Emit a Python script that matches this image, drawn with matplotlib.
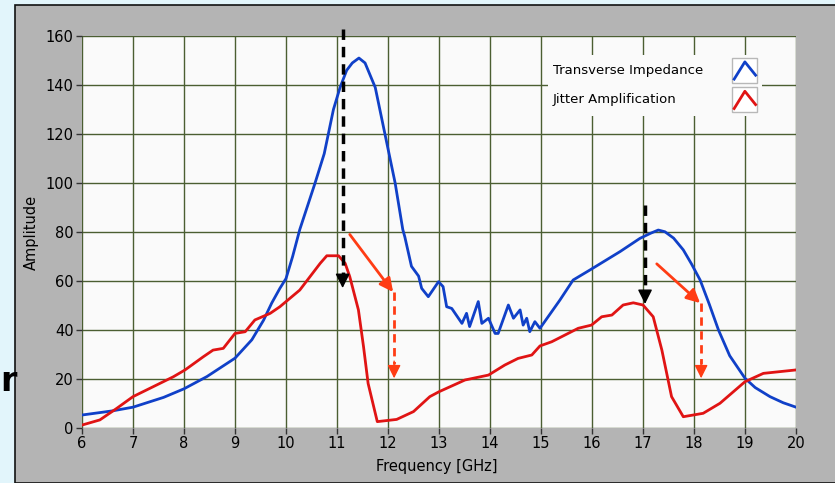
import matplotlib.pyplot as plt
from matplotlib.patches import Rectangle

# data
freq_ti = [6.0, 6.6, 7.0, 7.6, 8.0, 8.45, 9.0, 9.33, 9.56, 9.72, 9.88, 10.0, 10.13, 10.27, 10.57,
           10.75, 10.93, 11.06, 11.19, 11.3, 11.43, 11.55, 11.75, 11.97, 12.14, 12.29,
           12.33, 12.46, 12.6, 12.66, 12.79, 12.99, 13.08, 13.15, 13.25, 13.45, 13.54,
           13.6, 13.77, 13.84, 13.97, 14.1, 14.16, 14.36, 14.46, 14.59, 14.65, 14.72,
           14.78, 14.88, 14.98, 15.37, 15.63, 15.96, 16.55, 16.94, 17.15, 17.3, 17.43,
           17.6, 17.79, 17.95, 18.12, 18.3, 18.48, 18.7, 19.0, 19.2, 19.49, 19.75, 20.0]
amp_ti = [5.3, 7.0, 8.5, 12.5, 16, 21, 28.5, 36, 44, 51, 57, 61, 70, 81, 100,
          112, 130, 139, 146, 149, 151, 149, 139, 117, 100, 81,
          78, 66, 62, 57, 53.6, 59.7, 57.7, 49.5, 48.8, 42.7, 46.8,
          41.4, 51.6, 42.7, 44.8, 38.6, 38.6, 50.2, 44.8, 48.2, 42, 44.8,
          39.3, 43.4, 40.7, 52.2, 60.4, 64.5, 72, 77.4, 79.5, 80.8, 80.1,
          77.5, 72.7, 67, 60.4, 50.5, 40, 29.5, 20.3, 16.5, 12.8, 10.3, 8.5]

freq_ja = [6.0, 6.35, 6.68, 7.0, 7.4, 7.79, 8.02, 8.38, 8.57, 8.77, 9.0, 9.2, 9.39, 9.69,
           9.88, 10.27, 10.67, 10.8, 11.03, 11.16, 11.25, 11.42, 11.52, 11.61, 11.79,
           12.17, 12.5, 12.82, 13.0, 13.51, 13.97, 14.29, 14.55, 14.82, 14.98, 15.21,
           15.73, 15.99, 16.19, 16.39, 16.61, 16.81, 17.0, 17.2, 17.37, 17.56, 17.79,
           18.18, 18.51, 19.0, 19.36, 20.0]
amp_ja = [1.2, 3.3, 8, 12.8, 16.9, 20.9, 23.7, 29.1, 31.8, 32.5, 38.6, 39.3, 44.1, 46.8,
          49.5, 56.3, 67.2, 70.3, 70.3, 67.2, 61.8, 48.2, 33.2, 18.2, 2.6,
          3.5, 6.7, 12.8, 14.8, 19.6, 21.6, 25.7, 28.4, 29.8, 33.5, 35.2,
          40.7, 42, 45.4, 46.1, 50.2, 51.1, 50.2, 45.4, 31.8, 12.8, 4.6,
          6, 10.1, 18.9, 22.3, 23.7]

labels = ['Transverse Impedance', 'Jitter Amplification']
xticks = list(range(6, 21))
yticks = list(range(0, 161, 20))

# annotation arrows: (x, y_start, y_end)
black_drops = [(11.11, 163, 56), (17.04, 91, 49.5)]
# red arrows: (x0, y0, x1, y1, y_end)
red_arrows = [(11.25, 79, 12.1, 55.5, 20.3), (17.27, 67, 18.12, 51, 20.3)]

BLUE = '#1040c8'
RED = '#e01414'
ORANGE = '#ff3c14'
GRID = '#4b5e32'

fig = plt.figure(figsize=(8.35, 4.83), dpi=100)
fig.patch.set_facecolor('#e2f5fb')
fig.patches.append(Rectangle((15 / 835, 0), 1, 478 / 483, transform=fig.transFigure,
                             facecolor='#b4b4b4', edgecolor='#111111', lw=1.2, zorder=-1))
fig.text(0.0, 0.19, 'r', fontsize=24, fontweight='bold', color='black')

ax = fig.add_axes([82 / 835, 55 / 483, 714 / 835, 392 / 483])
ax.set_zorder(2)
ax.set_facecolor('#fafafa')
ax.set_axisbelow(True)
ax.grid(True, color=GRID, lw=1.0)
for s in ax.spines.values():
    s.set_visible(False)

ax.plot(freq_ti, amp_ti, color=BLUE, lw=2.0, zorder=3)
ax.plot(freq_ja, amp_ja, color=RED, lw=2.0, zorder=3)

ax.set_xlim(6, 20)
ax.set_ylim(0, 160)
ax.set_xticks(xticks)
ax.set_yticks(yticks)
ax.tick_params(length=4, width=1, color='#333333', labelsize=10.5, pad=2)
ax.set_xlabel('Frequency [GHz]', fontsize=10.5)
ax.set_ylabel('Amplitude', fontsize=10.5)
ax.xaxis.set_label_coords(0.497, -0.08)
ax.yaxis.set_label_coords(-0.06, 0.5)

for x, y0, y1 in black_drops:
    ax.plot([x, x], [y0, y1 + 6], color='black', lw=2.5, ls=(0, (3, 2)), zorder=5, clip_on=False)
    ax.annotate('', xy=(x, y1), xytext=(x, y1 + 7),
                arrowprops=dict(arrowstyle='-|>', color='black', lw=1, mutation_scale=22),
                zorder=5, annotation_clip=False)

for x0, y0, x1, y1, y2 in red_arrows:
    ax.annotate('', xy=(x1, y1), xytext=(x0, y0),
                arrowprops=dict(arrowstyle='-|>', color=ORANGE, lw=2, mutation_scale=20,
                                shrinkA=0, shrinkB=0), zorder=5)
    ax.plot([x1 + 0.02, x1 + 0.02], [y1, y2 + 6], color=ORANGE, lw=2, ls=(0, (3, 2)), zorder=5)
    ax.annotate('', xy=(x1 + 0.02, y2), xytext=(x1 + 0.02, y2 + 7),
                arrowprops=dict(arrowstyle='-|>', color=ORANGE, lw=1, mutation_scale=20,
                                shrinkA=0, shrinkB=0), zorder=5)

# legend, drawn by hand so the icons sit on the right
ax.add_patch(Rectangle((0.6527, 0.796), 0.30, 0.156, transform=ax.transAxes,
                       facecolor='#fafafa', edgecolor='none', zorder=4))
for i, (lab, col) in enumerate(zip(labels, [BLUE, RED])):
    yc = 0.912 - i * 0.075
    ax.text(0.6597, yc, lab, transform=ax.transAxes, fontsize=9.5, va='center',
            ha='left', zorder=6)
    ax.add_patch(Rectangle((0.9104, yc - 0.031), 0.035, 0.063, transform=ax.transAxes,
                           facecolor='white', edgecolor='#b8b8b8', lw=1, zorder=6))
    ax.plot([0.9134, 0.9284, 0.9434], [yc - 0.022, yc + 0.022, yc - 0.012],
            transform=ax.transAxes, color=col, lw=2, zorder=7, clip_on=False)

fig.savefig('out.png', dpi=100, facecolor=fig.get_facecolor())
